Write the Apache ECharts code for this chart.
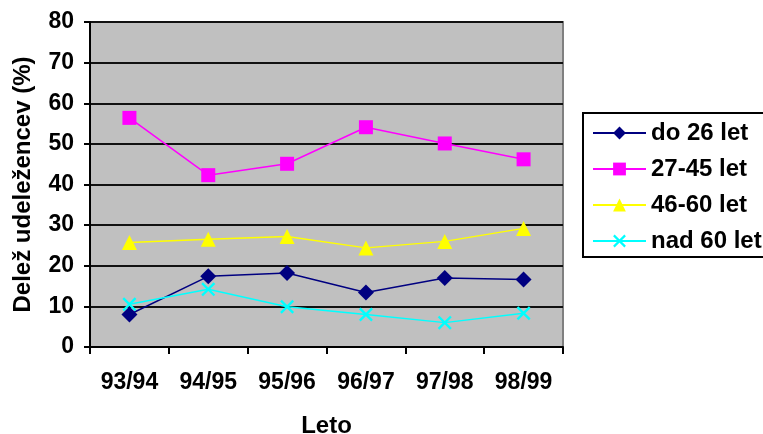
<!DOCTYPE html>
<html><head><meta charset="utf-8">
<script src="https://cdn.jsdelivr.net/npm/echarts@6/dist/echarts.min.js"></script>
<style>html,body{margin:0;padding:0;background:#fff}#c{width:763px;height:434px}</style>
</head><body><div id="c"></div>
<script>
var categories = ['93/94','94/95','95/96','96/97','97/98','98/99'];
var seriesNames = ['do 26 let','27-45 let','46-60 let','nad 60 let'];
var do26 = [8.0, 17.4, 18.2, 13.4, 17.0, 16.6];
var s27_45 = [56.4, 42.3, 45.1, 54.1, 50.1, 46.2];
var s46_60 = [25.7, 26.5, 27.2, 24.4, 26.0, 29.2];
var nad60 = [10.5, 14.2, 9.9, 8.0, 6.0, 8.3];
var yTicks = {min: 0, max: 80, interval: 10};

var F = 'Arial, "Liberation Sans", sans-serif';
var xPath = 'path://M0,1.2L1.2,0L10,8.8L8.8,10Z M8.8,0L10,1.2L1.2,10L0,8.8Z';
function mk(name, data, color, symbol, size){
  return {name:name, type:'line', data:data, symbol:symbol, symbolSize:size,
    lineStyle:{color:color, width:1.5}, itemStyle:{color:color},
    emphasis:{disabled:true}, animation:false};
}
var chart = echarts.init(document.getElementById('c'));
chart.setOption({
  animation:false,
  grid:{left:90, top:22, right:200, bottom:87, show:true, outerBoundsMode:'none', containLabel:false,
    backgroundColor:'#C0C0C0', borderColor:'#808080', borderWidth:2},
  legend:{orient:'vertical', left:583, top:113, itemWidth:53, itemHeight:16, itemGap:12,
    padding:[8,20,4,9], borderColor:'#000', borderWidth:2, backgroundColor:'#fff',
    textStyle:{fontFamily:F, fontWeight:'bold', fontSize:24, color:'#000'},
    data:seriesNames},
  xAxis:{type:'category', data:categories, boundaryGap:true,
    name:'Leto', nameLocation:'middle', nameGap:67,
    nameTextStyle:{fontFamily:F, fontWeight:'bold', fontSize:24, color:'#000'},
    axisLine:{lineStyle:{color:'#000', width:2}},
    axisTick:{show:true, length:7, alignWithLabel:false, lineStyle:{color:'#000', width:2}},
    axisLabel:{fontFamily:F, fontWeight:'bold', fontSize:23, color:'#000', margin:24}},
  yAxis:{type:'value', min:yTicks.min, max:yTicks.max, interval:yTicks.interval,
    name:'Delež udeležencev (%)', nameLocation:'middle', nameGap:55, nameRotate:90,
    nameTextStyle:{fontFamily:F, fontWeight:'bold', fontSize:24, color:'#000'},
    axisLine:{show:true, lineStyle:{color:'#000', width:2}},
    axisTick:{show:true, length:6, lineStyle:{color:'#000', width:2}},
    splitLine:{lineStyle:{color:'#111', width:2}},
    axisLabel:{fontFamily:F, fontWeight:'bold', fontSize:23, color:'#000', margin:16}},
  series:[
    mk(seriesNames[0], do26, '#000080', 'diamond', 16),
    mk(seriesNames[1], s27_45, '#FF00FF', 'rect', 14),
    mk(seriesNames[2], s46_60, '#FFFF00', 'triangle', 15),
    mk(seriesNames[3], nad60, '#00FFFF', xPath, 14)
  ]
});
</script></body></html>
